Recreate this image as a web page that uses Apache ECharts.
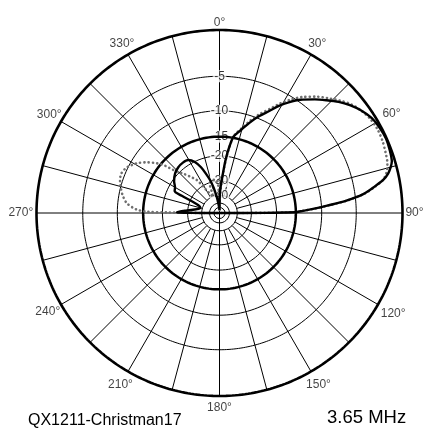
<!DOCTYPE html>
<html>
<head>
<meta charset="utf-8">
<script src="https://cdn.jsdelivr.net/npm/echarts@6/dist/echarts.min.js"></script>
<style>
  html, body { margin: 0; padding: 0; background: #fff; }
  #chart { width: 426px; height: 444px; }
</style>
</head>
<body>
<div id="chart"></div>
<script>
// Elevation pattern on the ARRL log-periodic radial scale (0 dB at the rim).

// Solid trace: angle in degrees (clockwise from the top) and gain in dB
const solidAngles = [0, 1, 2.6, 5, 7, 10, 12, 15, 18.5, 22, 26, 29, 32, 35.5, 40, 43.5, 47, 50.4, 54, 58, 62, 66, 70, 73.4, 75, 76.8, 78.6, 80.5, 82.5, 84.5, 86, 87.5, 88.5, 89.3, 89.6, 89.8, 90,
  270, 270.2, 270.5, 271, 272, 274, 277, 281, 286, 290, 293, 294.5, 296, 300, 305, 311.7, 318, 324, 329.5, 334, 338, 341, 344, 347, 350, 353, 357, 360];
const solidDb = [-70, -40, -33, -26, -20, -15, -14, -12.8, -11.2, -9.7, -8.2, -6.9, -5.8, -4.7, -3.6, -2.8, -2.0, -1.35, -0.8, -0.35, -0.15, -0.06, -0.15, -0.3, -0.55, -0.93, -1.57, -2.7, -4.0, -6.3, -8.9, -11.5, -13.5, -14.8, -18, -24, -70,
  -70, -32, -26, -25, -26, -29, -33, -37, -38, -36, -31, -25.5, -22.3, -21.8, -20.5, -19.3, -18.7, -18.5, -18.7, -20, -22.5, -25.5, -28.7, -33.5, -41, -50, -62, -70];

// Dotted trace
const dottedAngles = [0, 1, 3, 5, 7, 10, 12, 15, 18.5, 22, 26, 29, 32, 35.5, 40, 43.5, 47, 50.4, 54, 58, 62, 66, 70, 73.4, 75, 76.8, 78.6, 80.5, 82.5, 84.5, 86, 87.5, 88.5, 89.3, 89.6, 89.8, 90,
  270, 270.3, 270.6, 271, 272.5, 276, 280, 284, 288, 292, 296, 301, 305, 308.4, 311, 313, 318, 322, 325.4, 328.4, 331, 335, 338, 340, 341.3, 345, 350, 355, 358, 360];
const dottedDb = [-70, -45, -34, -27, -20.5, -15, -13.8, -12.5, -10.8, -9.3, -7.8, -6.5, -5.4, -4.3, -3.2, -2.5, -1.8, -1.2, -0.8, -0.5, -0.4, -0.45, -0.6, -0.75, -0.9, -1.15, -1.6, -2.6, -3.9, -6.2, -8.8, -11.4, -13.4, -14.8, -18, -24, -70,
  -70, -32, -22, -16, -13.5, -11.6, -10.7, -10.1, -9.6, -9.4, -9.8, -11, -12.5, -14.2, -16, -18.3, -21.5, -24, -26, -30.5, -34, -38, -40.5, -36, -31.3, -29.5, -29, -29.3, -36, -70];

// Constant-level reference circle
const referenceDb = -15;

// Grid rings and labelled levels (dB)
const ringDb = [-5, -10, -15, -20, -30, -40, -50, -60];
const ringLabelDb = [-5, -10, -15, -20, -30, -40];
// Spokes every 15 degrees, angle labels every 30
const spokeStep = 15;
const angleLabels = [0, 30, 60, 90, 120, 150, 180, 210, 240, 270, 300, 330];

const title = 'QX1211-Christman17';
const freqText = '3.65 MHz';

// Layout
const RIM = 183;          // px radius of the 0 dB circle
const AXIS_MAX = 1.12;    // radius axis headroom for the angle labels
// distance (px) from the rim to the centre of each angle label, in angleLabels order
const angleLabelGap = [7.5, 12.4, 15.6, 12, 17.5, 15, 11.5, 15, 15.3, 15.7, 13.6, 12];

// ARRL scale: each 2 dB step shrinks the radius by a factor of 0.89
function arrl(db) { return Math.pow(0.89, -db / 2); }

function trace(angles, dbs) {
  return angles.map((a, i) => [arrl(dbs[i]), a]);
}
function circle(db) {
  const pts = [];
  for (let a = 0; a <= 360; a += 1) pts.push([arrl(db), a]);
  return pts;
}

const FONT = 'Liberation Sans, Arial, sans-serif';
const series = [];
// thin grid rings
ringDb.forEach(db => {
  series.push({
    type: 'line', coordinateSystem: 'polar', data: circle(db), symbol: 'none', silent: true,
    lineStyle: { color: '#000', width: 1 }, z: 1, animation: false
  });
});
// rim
series.push({
  type: 'line', coordinateSystem: 'polar', data: circle(0), symbol: 'none', silent: true,
  lineStyle: { color: '#000', width: 2.6 }, z: 2, animation: false
});
// spokes
for (let a = 0; a < 360; a += spokeStep) {
  const inner = (a % 90 === 0) ? 0 : arrl(-40);
  series.push({
    type: 'line', coordinateSystem: 'polar', data: [[inner, a], [1, a]], symbol: 'none', silent: true,
    lineStyle: { color: '#000', width: 1 }, z: 1, animation: false
  });
}
// level labels along the 0 degree spoke
series.push({
  type: 'scatter', coordinateSystem: 'polar', symbolSize: 0, silent: true, z: 2, animation: false,
  data: ringLabelDb.map(db => ({ value: [arrl(db), 0], name: String(db) })),
  label: {
    show: true, position: 'inside', formatter: p => p.name,
    fontFamily: FONT, fontSize: 12, color: '#000',
    backgroundColor: '#fff', padding: [0, 1, 0, 1]
  }
});
// angle labels just outside the rim
series.push({
  type: 'scatter', coordinateSystem: 'polar', symbolSize: 0, silent: true, z: 2, animation: false,
  data: angleLabels.map((a, i) => ({ value: [(RIM + angleLabelGap[i]) / RIM, a], name: a + '°' })),
  label: {
    show: true, position: 'inside', formatter: p => p.name,
    fontFamily: FONT, fontSize: 12, color: '#111'
  }
});
// reference circle
series.push({
  type: 'line', coordinateSystem: 'polar', data: circle(referenceDb), symbol: 'none',
  lineStyle: { color: '#000', width: 2.5 }, z: 3, animation: false
});
// dotted trace
series.push({
  type: 'line', coordinateSystem: 'polar', data: trace(dottedAngles, dottedDb), symbol: 'none', smooth: 0.3,
  lineStyle: { color: '#6e6e6e', width: 2.6, type: [0.1, 4.2], cap: 'round' }, z: 4, animation: false
});
// solid trace
series.push({
  type: 'line', coordinateSystem: 'polar', data: trace(solidAngles, solidDb), symbol: 'none', smooth: 0.3,
  lineStyle: { color: '#000', width: 2.4, join: 'round' }, z: 5, animation: false
});

const chart = echarts.init(document.getElementById('chart'), null, { renderer: 'canvas' });
chart.setOption({
  backgroundColor: '#fff',
  animation: false,
  polar: { center: [219.5, 213], radius: RIM * AXIS_MAX },
  angleAxis: {
    type: 'value', min: 0, max: 360, interval: 30, startAngle: 90, clockwise: true,
    axisLine: { show: false }, axisTick: { show: false }, splitLine: { show: false }, axisLabel: { show: false }
  },
  radiusAxis: {
    type: 'value', min: 0, max: AXIS_MAX, show: false,
    axisLine: { show: false }, axisTick: { show: false }, axisLabel: { show: false }, splitLine: { show: false }
  },
  graphic: [
    { type: 'text', left: 28, top: 413, style: { text: title, font: '16px Liberation Sans, Arial, sans-serif', fill: '#000' } },
    { type: 'text', left: 327, top: 408, style: { text: freqText, font: '18.5px Liberation Sans, Arial, sans-serif', fill: '#000' } }
  ],
  series: series
});
</script>
</body>
</html>
